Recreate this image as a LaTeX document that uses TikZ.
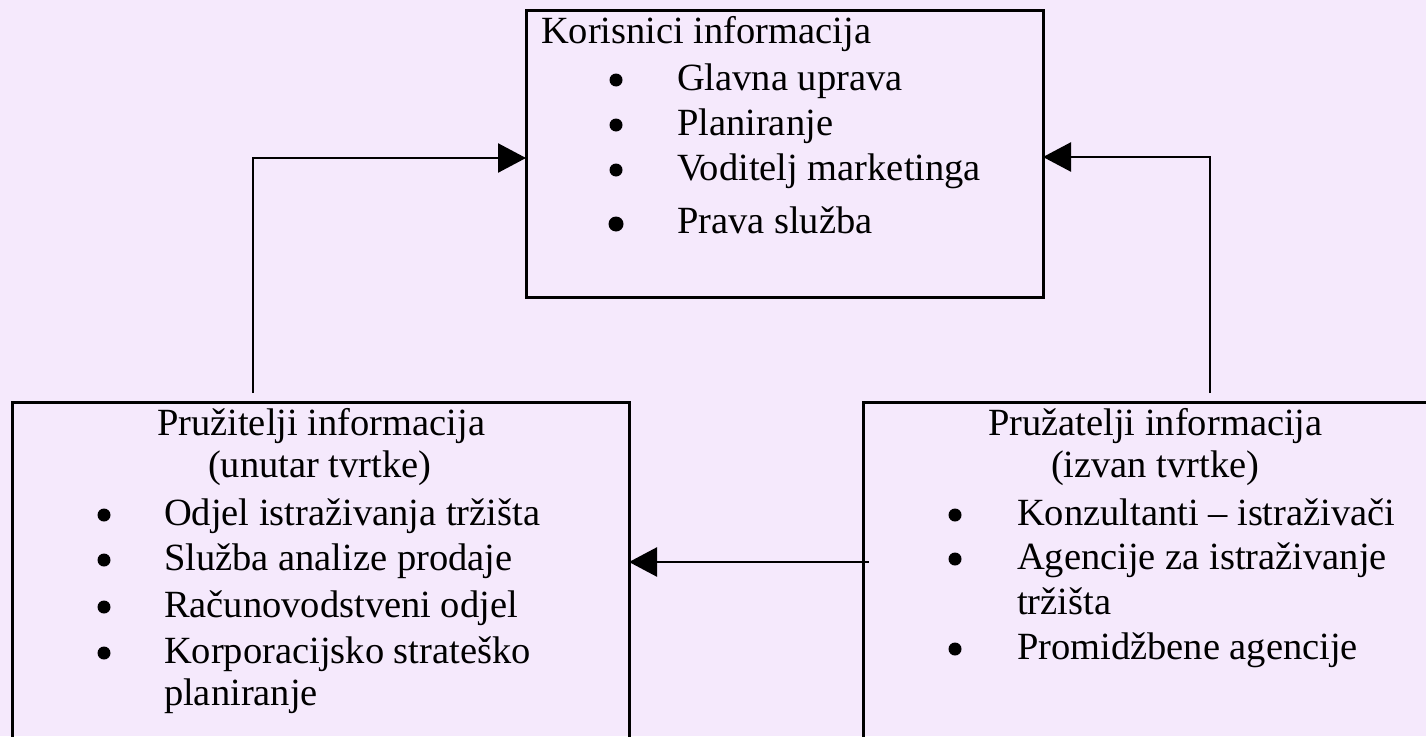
\documentclass[tikz,border=0pt]{standalone}
\usepackage{fontspec}
\setmainfont{Liberation Serif}
\usetikzlibrary{arrows.meta,positioning}
\definecolor{lavender}{RGB}{245,233,252}

\begin{document}
\begin{tikzpicture}
[x=1pt,y=-1pt,
every node/.style={draw=none,inner sep=0pt,outer sep=0pt,font=\fontsize{38.5}{46}\selectfont},
box/.style={draw,line width=3pt,anchor=north west},
line/.style={anchor=base west},
dot/.style={circle,fill,minimum size=13pt},
edge/.style={-{Triangle[length=28pt,width=29pt]},line width=2.5pt}]
%%
\useasboundingbox (0,0) rectangle (1426,736);
\fill[lavender] (0,0) rectangle (1426,736);
%%
\node[box,minimum width=517pt,minimum height=287pt] (users) at (526,10) {};
\node[box,minimum width=617pt,minimum height=400pt] (inside) at (12,402) {};
\node[box,minimum width=600pt,minimum height=400pt] (outside) at (863,402) {};
%%
\node[line] (usershead) at (541,43) {Korisnici informacija};
\foreach \t/\yy [count=\i] in {Glavna uprava/90,Planiranje/135,Voditelj marketinga/180} {
  \node[dot] (ub\i) at (616,\yy-10) {};
  \node[line] (ui\i) at (677,\yy) {\t};
}
\node[dot,minimum size=15pt] (ub4) at (616,224) {};
\node[line] (ui4) at (677,233) {Prava služba};
%%
\node[line] (insidehead) at (157,435) {Pružitelji informacija};
\node[line] (insidesub) at (208,477) {(unutar tvrtke)};
\foreach \t/\yy [count=\i] in {Odjel istraživanja tržišta/525,Služba analize prodaje/570,Računovodstveni odjel/617,Korporacijsko strateško/663} {
  \node[dot] (ib\i) at (104,\yy-10) {};
  \node[line] (ii\i) at (164,\yy) {\t};
}
\node[line] (ii5) at (164,705) {planiranje};
%%
\node[line] (outsidehead) at (988,435) {Pružatelji informacija};
\node[line] (outsidesub) at (1051,477) {(izvan tvrtke)};
\node[dot] (ob1) at (955,515) {};
\node[line] (oi1) at (1017,525) {Konzultanti – istraživači};
\node[dot] (ob2) at (955,559) {};
\node[line] (oi2) at (1017,569) {Agencije za istraživanje};
\node[line] (oi3) at (1017,614) {tržišta};
\node[dot] (ob4) at (955,649) {};
\node[line] (oi4) at (1017,659) {Promidžbene agencije};
%%
\coordinate (lfoot) at (253,393);
\coordinate (rfoot) at (1210,393);
\coordinate (rtail) at (869,562);
\draw[edge] (lfoot) |- ([yshift=-4.5pt]users.west);
\draw[edge] (rfoot) |- ([yshift=-3.5pt]users.east);
\draw[edge] (rtail) -- (rtail -| inside.east);
\end{tikzpicture}
\end{document}
